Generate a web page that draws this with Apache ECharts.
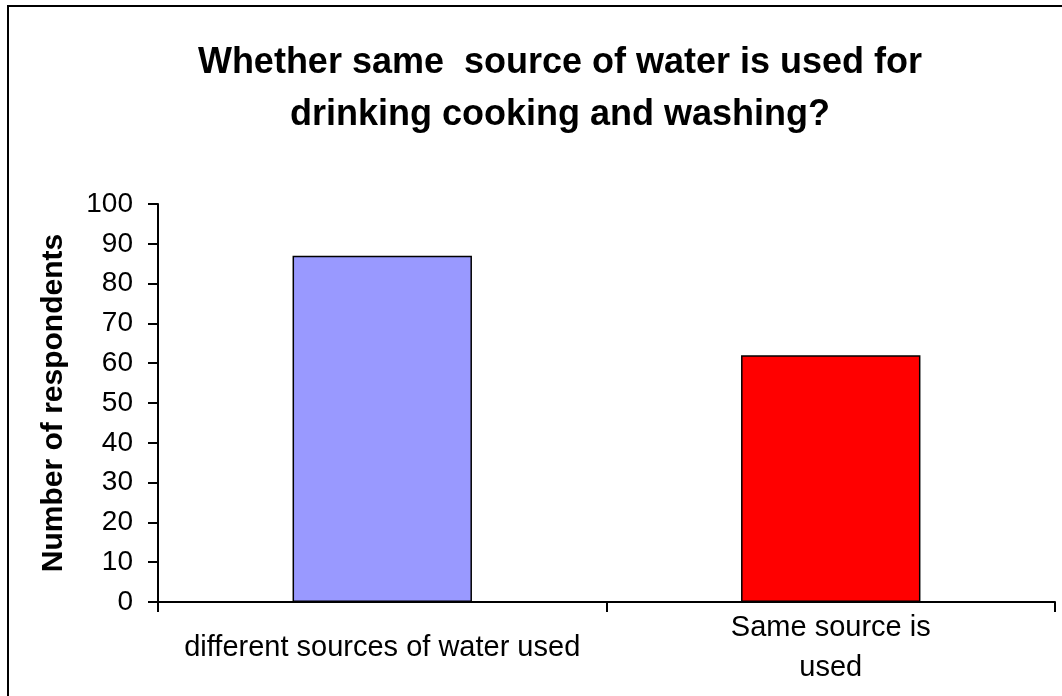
<!DOCTYPE html>
<html>
<head>
<meta charset="utf-8">
<script src="https://cdn.jsdelivr.net/npm/echarts@6/dist/echarts.min.js"></script>
<style>
html,body{margin:0;padding:0;background:#fff;}
#chart{width:1062px;height:696px;}
</style>
</head>
<body>
<div id="chart"></div>
<script>
const titleText = "Whether same  source of water is used for\ndrinking cooking and washing?";
const yAxisName = "Number of respondents";
const categories = ["different sources of water used", "Same source is\nused"];
const values = [87, 62];
const barColors = ["#9999FF", "#FF0000"];

const chart = echarts.init(document.getElementById('chart'), null, {renderer: 'canvas'});
chart.setOption({
  backgroundColor: '#ffffff',
  animation: false,
  title: {
    text: titleText,
    left: 555,
    textAlign: 'center',
    top: 32,
    textStyle: {
      fontFamily: 'Liberation Sans, Arial, sans-serif',
      fontWeight: 'bold',
      fontSize: 36,
      lineHeight: 52,
      color: '#000'
    }
  },
  graphic: [{
    type: 'rect',
    shape: {x: 8, y: 6, width: 1100, height: 720},
    style: {fill: 'none', stroke: '#000', lineWidth: 2},
    silent: true,
    z: 100
  }],
  grid: {left: 158, right: 7, top: 204, bottom: 94, containLabel: false},
  xAxis: {
    type: 'category',
    data: categories,
    axisLine: {lineStyle: {color: '#000', width: 2}},
    axisTick: {show: true, interval: 0, length: 10, lineStyle: {color: '#000', width: 2}},
    axisLabel: {
      interval: 0,
      hideOverlap: false,
      color: '#000',
      fontFamily: 'Liberation Sans, Arial, sans-serif',
      fontSize: 29,
      lineHeight: 40,
      verticalAlign: 'middle',
      margin: 46
    }
  },
  yAxis: {
    type: 'value',
    min: 0,
    max: 100,
    interval: 10,
    name: yAxisName,
    nameLocation: 'middle',
    nameGap: 89,
    nameRotate: 90,
    nameTextStyle: {
      color: '#000',
      fontFamily: 'Liberation Sans, Arial, sans-serif',
      fontWeight: 'bold',
      fontSize: 30
    },
    splitLine: {show: false},
    axisLine: {show: true, lineStyle: {color: '#000', width: 2}},
    axisTick: {show: true, length: 10, lineStyle: {color: '#000', width: 2}},
    axisLabel: {
      color: '#000',
      fontFamily: 'Liberation Sans, Arial, sans-serif',
      fontSize: 28,
      margin: 25
    }
  },
  series: [{
    type: 'bar',
    barWidth: '40%',
    data: values.map((v, i) => ({
      value: v,
      itemStyle: {color: barColors[i], borderColor: '#000', borderWidth: 1.5}
    }))
  }]
});
</script>
</body>
</html>
